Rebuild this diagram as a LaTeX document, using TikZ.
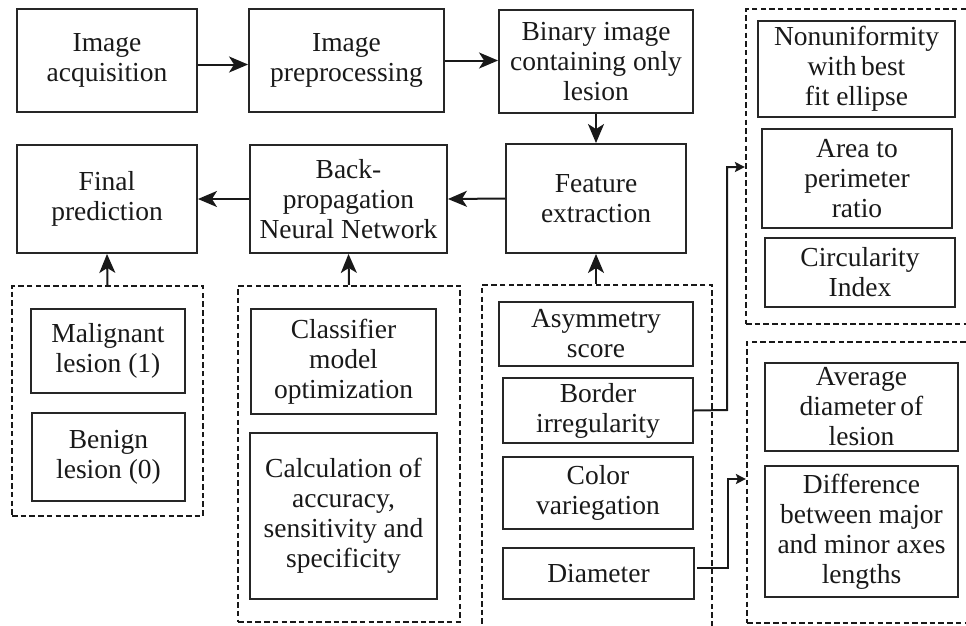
\documentclass[tikz,border=0pt]{standalone}
\usepackage{fontspec}
\setmainfont{Liberation Serif}
\usetikzlibrary{arrows.meta}
\tikzset{
  box/.style={draw=black!85, line width=1.9pt, inner sep=0pt, align=center,
    font=\fontsize{27.5}{30}\selectfont, text=black!90},
  grp/.style={draw=black!90, line width=2.2pt, dash pattern=on 5.5pt off 3.2pt, inner sep=0pt},
  conn/.style={line width=2pt, draw=black!90, -{Stealth[length=19pt,width=16pt,inset=5pt]}},
  sconn/.style={line width=2pt, draw=black!90, -{Stealth[length=10pt,width=10pt,inset=2pt]}},
}
\newcommand\bx[6]{\node[box, minimum width={(#4-#2)*1pt}, minimum height={(#5-#3)*1pt}] (#1) at ({(#2+#4)/2},{(#3+#5)/2}) {#6};}
\newcommand\gp[5]{\node[grp, minimum width={(#4-#2)*1pt}, minimum height={(#5-#3)*1pt}] (#1) at ({(#2+#4)/2},{(#3+#5)/2}) {};}
\begin{document}
\begin{tikzpicture}[x=1pt,y=-1pt]
\useasboundingbox (0,0) rectangle (966,625);
\clip (0,0) rectangle (966,625);
% top row
\bx{acq}{17}{9}{197}{112}{Image\\acquisition}
\bx{prep}{249}{9}{444}{112}{Image\\preprocessing}
\bx{bin}{499}{10}{693}{113}{Binary image\\containing only\\lesion}
% second row
\bx{final}{17}{145}{197}{253}{Final\\prediction}
\bx{bp}{250}{145}{447}{253}{Back-\\propagation\\Neural Network}
\bx{feat}{506}{144}{686}{253}{Feature\\extraction}
% groups
\gp{g1}{12}{286}{203}{516}
\gp{g2}{238}{286}{460}{622}
\gp{g3}{482}{285}{712}{640}
\gp{g4}{746}{9}{990}{324}
\gp{g5}{747}{342}{990}{623}
% group 1
\bx{mal}{31}{309}{185}{393}{Malignant\\lesion (1)}
\bx{ben}{32}{413}{185}{501}{Benign\\lesion (0)}
% group 2
\bx{cls}{251}{309}{436}{414}{Classifier\\model\\optimization}
\bx{calc}{250}{433}{437}{599}{Calculation of\\accuracy,\\sensitivity and\\specificity}
% group 3
\bx{asym}{499}{302}{693}{366}{Asymmetry\\score}
\bx{bord}{503}{378}{693}{443}{Border\\irregularity}
\bx{col}{503}{457}{693}{529}{Color\\variegation}
\bx{diam}{503}{548}{694}{599}{Diameter}
% group 4
\bx{nonu}{758}{21}{955}{117}{Nonuniformity\\with\,best\\fit ellipse}
\bx{area}{762}{129}{952}{228}{Area to\\perimeter\\ratio}
\bx{circ}{765}{238}{955}{307}{Circularity\\Index}
% group 5
\bx{avg}{765}{363}{958}{451}{Average\\diameter\,of\\lesion}
\bx{diff}{765}{466}{958}{597}{Difference\\between major\\and minor axes\\lengths}
% connectors
\draw[conn] ([yshift=-4pt]acq.east) -- ([yshift=-4pt]prep.west);
\draw[conn] (prep.east) -- (bin.west |- prep.east);
\draw[conn] (bin.south) -- (feat.north);
\draw[conn] (feat.west) -- (bp.east);
\draw[conn] (bp.west) -- (final.east);
\draw[conn] (g1.north) -- (final.south);
\draw[conn] (g2.north) -- (bp.south);
\draw[conn] (g3.north -| feat.south) -- (feat.south);
\coordinate (b1) at (727,410);
\coordinate (b2) at (727,167);
\draw[sconn] (bord.east) -- (b1) -- (b2) -- (b2 -| g4.west);
\coordinate (d0) at (697,568);
\coordinate (d1) at (728,568);
\coordinate (d2) at (728,479);
\draw[sconn] (d0) -- (d1) -- (d2) -- (d2 -| g5.west);
\end{tikzpicture}
\end{document}
